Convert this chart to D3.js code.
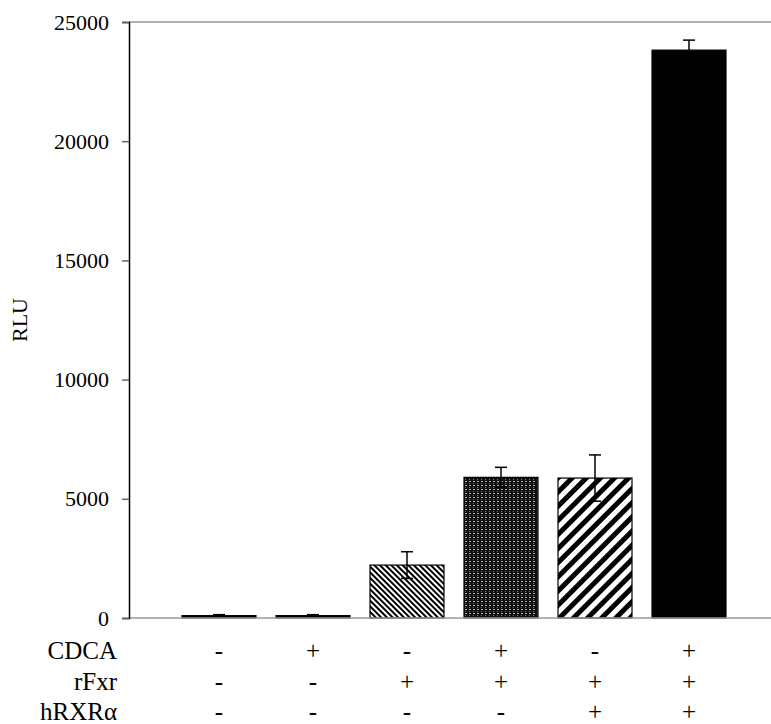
<!DOCTYPE html>
<html><head><meta charset="utf-8">
<script src="https://cdn.jsdelivr.net/npm/d3@7/dist/d3.min.js"></script>
<style>body{margin:0;background:#fff}svg{display:block}</style>
</head><body>
<script>
const categories = ["1","2","3","4","5","6"];
const values = [100, 100, 2220, 5900, 5870, 23820];
const errors = [40, 40, 560, 420, 970, 420];
const rowLabels = ["CDCA","rFxr","hRXR\u03B1"];
const cdca = ["-","+","-","+","-","+"];
const rfxr = ["-","-","+","+","+","+"];
const hrxr = ["-","-","-","-","+","+"];
const yTicks = [0,5000,10000,15000,20000,25000];
const fills = ["url(#p0)","url(#p0)","url(#pDiagDense)","url(#pGrid)","url(#pWide)","#000"];

const W=771,H=724;
const svg=d3.select("body").append("svg").attr("width",W).attr("height",H);
const font="'Liberation Serif','DejaVu Serif',serif";
const defs=svg.append("defs");
// dense diagonal (\\\)
let p=defs.append("pattern").attr("id","pDiagDense").attr("patternUnits","userSpaceOnUse").attr("width",4).attr("height",4).attr("patternTransform","rotate(-45)");
p.append("rect").attr("width",4).attr("height",4).attr("fill","#fff");
p.append("rect").attr("width",2).attr("height",4).attr("fill","#000");
// grid pattern
p=defs.append("pattern").attr("id","pGrid").attr("patternUnits","userSpaceOnUse").attr("width",4).attr("height",4);
p.append("rect").attr("width",4).attr("height",4).attr("fill","#111");
p.append("rect").attr("x",1).attr("y",1).attr("width",2).attr("height",1).attr("fill","#aaa");
p.append("rect").attr("x",1).attr("y",3).attr("width",1).attr("height",1).attr("fill","#777");
// wide diagonal (///)
p=defs.append("pattern").attr("id","pWide").attr("patternUnits","userSpaceOnUse").attr("width",10).attr("height",10).attr("patternTransform","rotate(45)");
p.append("rect").attr("width",10).attr("height",10).attr("fill","#fff");
p.append("rect").attr("width",5).attr("height",10).attr("fill","#000");
p=defs.append("pattern").attr("id","p0").attr("patternUnits","userSpaceOnUse").attr("width",4).attr("height",4);
p.append("rect").attr("width",4).attr("height",4).attr("fill","#000");

const x=d3.scaleBand().domain(categories).range([172,736]).paddingInner(0.213).paddingOuter(0.1065);
const y=d3.scaleLinear().domain([0,25000]).range([618,22]);

svg.append("line").attr("x1",129).attr("x2",771).attr("y1",y(25000)).attr("y2",y(25000)).attr("stroke","#999").attr("stroke-width",1.5);

svg.selectAll("rect.bar").data(categories).join("rect").attr("class","bar")
  .attr("x",d=>x(d)).attr("width",x.bandwidth())
  .attr("y",(d,i)=>y(values[i])).attr("height",(d,i)=>y(0)-y(values[i]))
  .attr("fill",(d,i)=>fills[i]).attr("stroke","#000").attr("stroke-width",1.2);

const eg=svg.append("g").attr("stroke","#000").attr("stroke-width",1.5);
categories.forEach((d,i)=>{
  const cx=x(d)+x.bandwidth()/2;
  eg.append("line").attr("x1",cx).attr("x2",cx).attr("y1",y(values[i]-errors[i])).attr("y2",y(values[i]+errors[i]));
  eg.append("line").attr("x1",cx-6).attr("x2",cx+6).attr("y1",y(values[i]+errors[i])).attr("y2",y(values[i]+errors[i]));
  eg.append("line").attr("x1",cx-6).attr("x2",cx+6).attr("y1",y(values[i]-errors[i])).attr("y2",y(values[i]-errors[i]));
});

svg.append("line").attr("x1",129).attr("x2",771).attr("y1",y(0)).attr("y2",y(0)).attr("stroke","#999").attr("stroke-width",1.5);

const ay=svg.append("g").attr("transform","translate(129,0)").call(d3.axisLeft(y).tickValues(yTicks).tickFormat(d3.format("d")).tickSize(7).tickPadding(13));
ay.select(".domain").attr("stroke","#000").attr("stroke-width",1.5);
ay.selectAll(".tick line").attr("stroke","#666").attr("stroke-width",1.5);
ay.selectAll("text").attr("font-family",font).attr("font-size",22).attr("fill","#000");

svg.append("text").attr("transform","translate(22,320) rotate(-90)").attr("text-anchor","middle").attr("dominant-baseline","middle")
  .attr("font-family",font).attr("font-size",22).text("RLU");

const rows=[cdca,rfxr,hrxr];
const rowY=[659,690,720];
rows.forEach((r,ri)=>{
  svg.append("text").attr("x",117).attr("y",rowY[ri]).attr("text-anchor","end")
    .attr("font-family",font).attr("font-size",25).text(rowLabels[ri]);
  svg.selectAll(null).data(categories).join("text")
    .attr("x",d=>x(d)+x.bandwidth()/2).attr("y",rowY[ri]).attr("text-anchor","middle")
    .attr("font-family",font).attr("font-size",25).text((d,i)=>r[i]);
});
</script>
</body></html>
